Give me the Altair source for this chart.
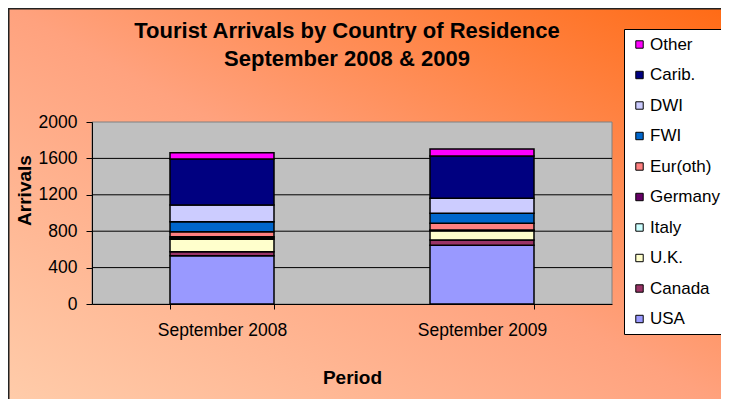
import altair as alt
import pandas as pd

periods = ["September 2008", "September 2009"]
countries = ["USA", "Canada", "U.K.", "Italy", "Germany", "Eur(oth)", "FWI", "DWI", "Carib.", "Other"]
arrivals_2008 = [531, 44, 136, 15, 14, 55, 109, 184, 506, 69]
arrivals_2009 = [645, 58, 101, 4, 5, 74, 110, 165, 464, 77]
legend_order = ["Other", "Carib.", "DWI", "FWI", "Eur(oth)", "Germany", "Italy", "U.K.", "Canada", "USA"]
legend_colors = ["#FF00FF", "#000080", "#CCCCFF", "#0066CC", "#FF8080",
                 "#660066", "#CCFFFF", "#FFFFCC", "#993366", "#9999FF"]
y_ticks = [0, 400, 800, 1200, 1600, 2000]
grid_values = [400, 800, 1200, 1600]

rows = []
for p, vals in zip(periods, [arrivals_2008, arrivals_2009]):
    for i, (c, v) in enumerate(zip(countries, vals)):
        rows.append({"Period": p, "Country": c, "Arrivals": v, "stack": i})
df = pd.DataFrame(rows)

FONT = "Liberation Sans"
W, H = 520, 182
PL, PT, PR, PB = 84, 114, 109, 95

one = pd.DataFrame({"k": [0]})

y_scale = alt.Scale(domain=[0, 2000], nice=False)
y_axis = alt.Axis(title="Arrivals", values=y_ticks, format="d", grid=False, tickSize=6,
                  labelPadding=9, labelFontSize=17.5, labelFont=FONT, labelColor="black",
                  domainColor="black", tickColor="black", zindex=1,
                  titleFontSize=19, titleFont=FONT, titleFontWeight="bold",
                  titleAngle=270, titleX=-68, titleY=68, titleAlign="center",
                  titleBaseline="middle", titleColor="black")

bg = alt.Chart(one).mark_rect(
    fill=alt.LinearGradient(
        gradient="linear",
        stops=[alt.GradientStop(color="#FFCDAB", offset=0),
               alt.GradientStop(color="#FFA27E", offset=0.5),
               alt.GradientStop(color="#FF6A14", offset=1)],
        x1=0, y1=1, x2=1, y2=0),
    stroke="#222222", strokeWidth=3,
).encode(x=alt.value(-PL), x2=alt.value(W + PR + 12), y=alt.value(-PT), y2=alt.value(H + PB + 12))

plot_bg = alt.Chart(one).mark_rect(fill="#C0C0C0", stroke="#808080", strokeWidth=1).encode(
    x=alt.value(0), x2=alt.value("width"), y=alt.value(0), y2=alt.value("height"))

grid = alt.Chart(pd.DataFrame({"v": grid_values})).mark_rule(color="black", strokeWidth=1).encode(
    y=alt.Y("v:Q", scale=y_scale, axis=y_axis),
    x=alt.value(0), x2=alt.value("width"))

bars = alt.Chart(df).mark_bar(stroke="black", strokeWidth=1.5).encode(
    x=alt.X("Period:N", sort=periods,
            scale=alt.Scale(paddingInner=0.6, paddingOuter=0.3),
            axis=alt.Axis(title="Period", labelAngle=0, tickBand="extent", tickSize=5,
                          labelPadding=12, labelFontSize=17.5, labelFont=FONT, labelColor="black",
                          domainColor="black", tickColor="black", zindex=1,
                          titleFontSize=19, titleFont=FONT, titleFontWeight="bold",
                          titleY=79, titleBaseline="alphabetic", titleColor="black")),
    y=alt.Y("Arrivals:Q", stack="zero", scale=y_scale, axis=y_axis),
    color=alt.Color("Country:N",
                    scale=alt.Scale(domain=legend_order, range=legend_colors),
                    legend=alt.Legend(title=None, orient="none", legendX=532, legendY=-93,
                                      fillColor="white", strokeColor="black", padding=7,
                                      symbolType="square", symbolSize=55,
                                      symbolStrokeColor="black", symbolStrokeWidth=1,
                                      labelFontSize=17, labelFont=FONT, labelColor="black",
                                      labelOffset=2, rowPadding=12.5)),
    order=alt.Order("stack:Q", sort="ascending"),
)

chart = alt.layer(bg, plot_bg, grid, bars).properties(
    width=W, height=H,
    autosize="none",
    padding={"left": PL, "top": PT, "right": PR, "bottom": PB},
    title=alt.TitleParams(
        text=["Tourist Arrivals by Country of Residence", "September 2008 & 2009"],
        fontSize=22, font=FONT, fontWeight="bold", color="black",
        anchor="middle", dx=-5, offset=-64, lineHeight=28),
).configure_view(stroke=None)

chart.save("out.html", embed_options={"renderer": "svg", "actions": False})
